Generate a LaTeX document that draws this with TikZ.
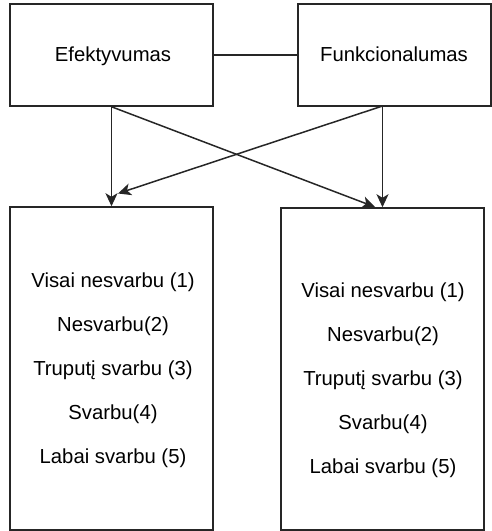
\documentclass[tikz,border=0pt]{standalone}
\usepackage{fontspec}
\setmainfont{Liberation Sans}
\usetikzlibrary{arrows.meta}
\begin{document}
\begin{tikzpicture}[x=1pt,y=-1pt,
  box/.style={draw=black!85,line width=1.5pt,minimum width=203pt,inner sep=0pt},
  lbl/.style={font=\fontsize{20.3}{24}\selectfont,inner sep=0pt},
  lst/.style={font=\fontsize{20.3}{44}\selectfont,align=center,inner sep=0pt},
  arr/.style={draw=black!85,line width=1.5pt,-{Stealth[length=13pt,width=12pt,inset=3.5pt]}},
  ln/.style={draw=black!85,line width=1.5pt}]
\useasboundingbox (0,0) rectangle (492,531);
\node[box,minimum height=102pt] (e) at (111.5,55) {};
\node[box,minimum width=193pt,minimum height=102pt] (f) at (394.5,55) {};
\node[lbl] (et) at (113,56) {Efektyvumas};
\node[lbl] (ft) at (394,54) {Funkcionalumas};
\node[box,minimum height=323pt] (bl) at (111.5,368.5) {};
\node[box,minimum height=322pt] (br) at (382.5,369) {};
\node[lst] (lt) at (113,370) {Visai nesvarbu (1)\\Nesvarbu(2)\\Truputį svarbu (3)\\Svarbu(4)\\Labai svarbu (5)};
\node[lst] (rt) at (383,380) {Visai nesvarbu (1)\\Nesvarbu(2)\\Truputį svarbu (3)\\Svarbu(4)\\Labai svarbu (5)};
\coordinate (fs) at (382.5,106);
\coordinate (t1) at (118,193.5);
\coordinate (t2) at (375,207);
\draw[ln] (e.east) -- (f.west);
\draw[arr] (e.south) -- (bl.north);
\draw[arr] (fs) -- (br.north);
\draw[arr] (e.south) -- (t2);
\draw[arr] (fs) -- (t1);
\end{tikzpicture}
\end{document}
